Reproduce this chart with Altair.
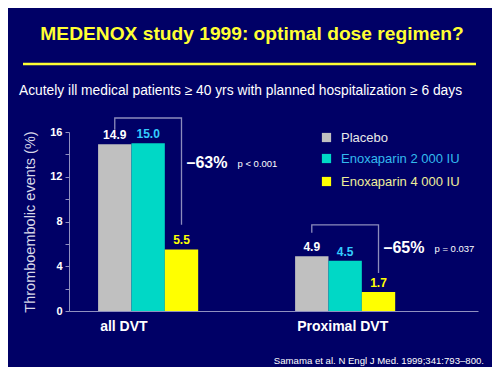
import altair as alt
import pandas as pd

groups = ["all DVT", "Proximal DVT"]
series = ["Placebo", "Enoxaparin 2 000 IU", "Enoxaparin 4 000 IU"]
values = {
    "all DVT": [14.9, 15.0, 5.5],
    "Proximal DVT": [4.9, 4.5, 1.7],
}
bar_colors = ["#C0C0C0", "#00D8C6", "#FFFF00"]
value_label_colors = ["#FFFFFF", "#33CCFF", "#FFFF00"]
legend_label_colors = ["#E8E8E8", "#33BBEE", "#EEEE99"]

# bracket: [top level, left end, right end]
bracket_levels = {
    "all DVT": [17.25, 16.2, 7.7],
    "Proximal DVT": [7.7, 7.0, 3.4],
}
reduction_text = ["–63%", "–65%"]
reduction_y = [13.2, 5.6]
p_text = ["p < 0.001", "p = 0.037"]

title_text = "MEDENOX study 1999: optimal dose regimen?"
subtitle_text = "Acutely ill medical patients \u2265 40 yrs with planned hospitalization \u2265 6 days"
footnote_text = "Samama et al. N Engl J Med. 1999;341:793–800."
y_title = "Thromboembolic events (%)"

BG = "#000066"
AXIS_COL = "#9090C0"

rows = []
for g in groups:
    for i, s in enumerate(series):
        rows.append({"group": g, "series": s, "value": values[g][i],
                     "label": f"{values[g][i]:.1f}", "lc": value_label_colors[i]})
df = pd.DataFrame(rows)

brows = []
for g in groups:
    top, left, right = bracket_levels[g]
    brows += [
        {"group": g, "series": series[0], "y": left, "o": 0},
        {"group": g, "series": series[0], "y": top, "o": 1},
        {"group": g, "series": series[2], "y": top, "o": 2},
        {"group": g, "series": series[2], "y": right, "o": 3},
    ]
bdf = pd.DataFrame(brows)

adf = pd.DataFrame({"group": groups, "series": [series[2]] * 2,
                    "y": reduction_y, "pct": reduction_text, "p": p_text})

x_scale = alt.Scale(paddingInner=0.492, paddingOuter=0.284, align=0.26)
x_axis = alt.Axis(title=None, ticks=False, labelColor="#FFFFFF",
                  labelFont="Arial", labelFontWeight="bold", labelFontSize=14,
                  labelPadding=8, domainColor=AXIS_COL, labelAngle=0,
                  labelAlign="left", labelOffset=-48)
x_enc = alt.X("group:N", sort=groups, scale=x_scale, axis=x_axis)
xo_enc = alt.XOffset("series:N", sort=series, scale=alt.Scale(domain=series))
y_scale = alt.Scale(domain=[0, 16], nice=False)
y_axis = alt.Axis(title=y_title, values=list(range(0, 17, 2)),
                  labelExpr="datum.value % 4 == 0 ? datum.label : ''",
                  labelColor="#FFFFFF", labelFont="Arial", labelFontWeight="bold",
                  labelFontSize=11, tickColor=AXIS_COL, tickSize=4,
                  domainColor=AXIS_COL, grid=False, titleColor="#D8D8E8",
                  titleFont="Arial", titleFontWeight="normal", titleFontSize=14.5,
                  titlePadding=12, labelPadding=3)
y_enc = lambda field: alt.Y(field, scale=y_scale, axis=y_axis)

legend_y = [-1, 20, 43]

bar_layers = []
for i, s in enumerate(series):
    bar_layers.append(
        alt.Chart(df).transform_filter(alt.datum.series == s).mark_bar(stroke=None).encode(
            x=x_enc,
            xOffset=xo_enc,
            y=y_enc("value:Q"),
            color=alt.Color("series:N",
                            scale=alt.Scale(domain=[s], range=[bar_colors[i]]),
                            legend=alt.Legend(title=None, orient="none", legendX=251,
                                              legendY=legend_y[i],
                                              symbolType="square", symbolSize=85,
                                              symbolStrokeWidth=0, labelFont="Arial",
                                              labelFontSize=13, labelOffset=8,
                                              padding=0, labelLimit=300,
                                              labelColor=legend_label_colors[i])),
        )
    )

value_labels = alt.Chart(df).mark_text(
    baseline="alphabetic", dy=-5, font="Arial", fontWeight="bold", fontSize=12
).encode(
    x=x_enc,
    xOffset=xo_enc,
    y=y_enc("value:Q"),
    text="label:N",
    color=alt.Color("lc:N", scale=None),
)

brackets = alt.Chart(bdf).mark_line(color="#8C8CBC", strokeWidth=1.3).encode(
    x=x_enc,
    xOffset=xo_enc,
    y=y_enc("y:Q"),
    detail="group:N",
    order="o:Q",
)

pct = alt.Chart(adf).mark_text(
    align="left", baseline="middle", dx=5, font="Arial", fontWeight="bold",
    fontSize=16, color="#FFFFFF"
).encode(
    x=x_enc, xOffset=xo_enc, y=y_enc("y:Q"), text="pct:N",
)

pval = alt.Chart(adf).mark_text(
    align="left", baseline="middle", dx=56, dy=1, font="Arial", fontSize=9.5,
    color="#FFFFFF"
).encode(
    x=x_enc, xOffset=xo_enc, y=y_enc("y:Q"), text="p:N",
)

base = alt.Chart(pd.DataFrame({"t": [0]}))
title = base.mark_text(font="Arial", fontWeight="bold", fontSize=19.2,
                       color="#FFFF33", align="center", baseline="middle").encode(
    x=alt.value(183), y=alt.value(-98), text=alt.value(title_text))
rule = base.mark_rule(color="#FFFF33", strokeWidth=2.5).encode(
    x=alt.value(-46), x2=alt.value(407), y=alt.value(-68))
subtitle = base.mark_text(font="Arial", fontSize=13.8, color="#FFFFFF",
                          align="left", baseline="middle").encode(
    x=alt.value(-50), y=alt.value(-41), text=alt.value(subtitle_text))
foot = base.mark_text(font="Arial", fontSize=9.6, color="#FFFFFF",
                      align="right", baseline="middle").encode(
    x=alt.value(415), y=alt.value(229), text=alt.value(footnote_text))

chart = alt.layer(
    *bar_layers, brackets, value_labels, pct, pval, title, rule, subtitle, foot
).resolve_scale(color="independent").properties(
    width=409, height=179,
    autosize=alt.AutoSizeParams(type="none"),
    padding={"left": 61, "top": 124, "right": 14, "bottom": 56},
    background=BG,
).configure_view(stroke=None)

chart.save("out.html", embed_options={"renderer": "svg", "actions": False})
